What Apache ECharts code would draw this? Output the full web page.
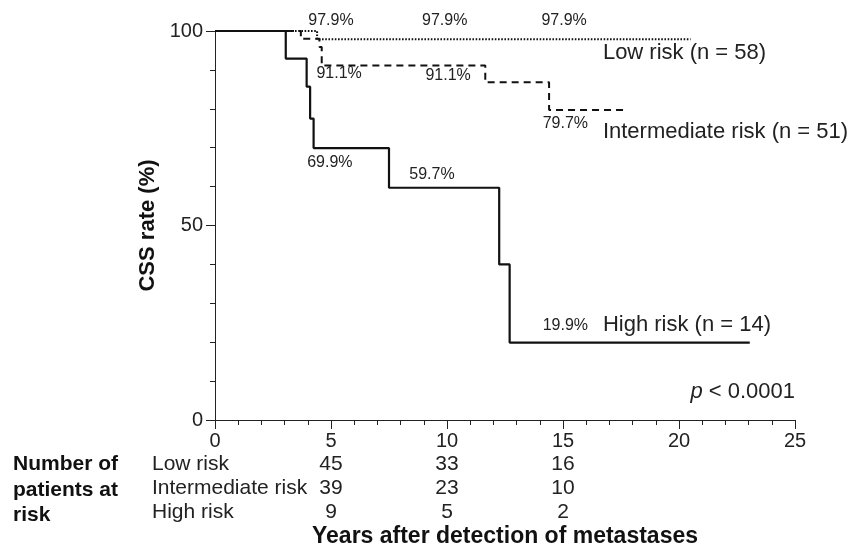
<!DOCTYPE html>
<html><head><meta charset="utf-8">
<script src="https://cdn.jsdelivr.net/npm/echarts@6/dist/echarts.min.js"></script>
<style>html,body{margin:0;padding:0;background:#fff}#c{width:867px;height:548px}</style>
</head><body><div id="c"></div>
<script>
// Kaplan-Meier step points [years, CSS %]
const lowRisk = [[0,100],[4.4,97.9],[20.5,97.9]];
const intermediateRisk = [[0,100],[3.7,98.0],[4.5,95.9],[4.6,91.1],[11.65,86.8],[14.4,79.7],[17.6,79.7]];
const highRisk = [[0,100],[3.05,92.9],[3.95,85.7],[4.1,77.5],[4.25,69.9],[7.5,59.7],[12.25,40.0],[12.7,19.9],[23.05,19.9]];
const xTicks = [0,5,10,15,20,25];
const rateLabels = [
  {t:'97.9%', x:5.0, y:102.8},{t:'97.9%', x:9.9, y:102.8},{t:'97.9%', x:15.05, y:102.8},
  {t:'91.1%', x:5.35, y:89.0},{t:'91.1%', x:10.05, y:88.6},
  {t:'79.7%', x:15.1, y:76.1},{t:'69.9%', x:4.95, y:66.1},{t:'59.7%', x:9.35, y:63.0},
  {t:'19.9%', x:15.1, y:24.2}
];
const groupLabels = [
  {t:'Low risk (n = 58)', x:16.72, y:94.3},
  {t:'Intermediate risk (n = 51)', x:16.72, y:74.0},
  {t:'High risk (n = 14)', x:16.72, y:24.4}
];
const riskGroups = ['Low risk','Intermediate risk','High risk'];
const riskTimes = [5,10,15];
const atRiskLow = [45,33,16];
const atRiskIntermediate = [39,23,10];
const atRiskHigh = [9,5,2];

const FONT = '"Liberation Sans", Arial, Helvetica, sans-serif';
const chart = echarts.init(document.getElementById('c'), null, {renderer:'canvas'});
const axisCommon = {
  axisLine:{show:true, lineStyle:{color:'#222', width:1}},
  axisTick:{show:true, inside:false, length:9, lineStyle:{color:'#222'}},
  minorTick:{show:true, splitNumber:5, length:5, lineStyle:{color:'#222'}},
  splitLine:{show:false}
};
chart.setOption({
  animation:false,
  backgroundColor:'#fff',
  grid:{left:215, right:72, top:31, bottom:128, containLabel:false, outerBoundsMode:'none'},
  xAxis:Object.assign({type:'value', min:0, max:25, interval:5,
    axisLabel:{fontSize:20, color:'#222', margin:11, fontFamily:FONT},
    name:'Years after detection of metastases', nameLocation:'middle', nameGap:105,
    nameTextStyle:{fontSize:23, fontWeight:'bold', color:'#111', fontFamily:FONT}
  }, axisCommon),
  yAxis:Object.assign({type:'value', min:0, max:100, interval:50,
    axisLabel:{fontSize:20, color:'#222', margin:12, fontFamily:FONT},
    name:'CSS rate (%)', nameLocation:'middle', nameGap:53, nameRotate:90,
    nameTextStyle:{fontSize:22, fontWeight:'bold', color:'#111', fontFamily:FONT}
  }, axisCommon),
  series:[
    {type:'line', step:'end', data:lowRisk, symbol:'none', lineStyle:{color:'#111', width:2, type:[1.6,1.6]}},
    {type:'line', step:'end', data:intermediateRisk, symbol:'none', lineStyle:{color:'#111', width:2, type:[7,5]}},
    {type:'line', step:'end', data:highRisk, symbol:'none', lineStyle:{color:'#111', width:2.2}}
  ]
});

const px = (x,y) => chart.convertToPixel({gridIndex:0}, [x,y]);
const g = [];
rateLabels.forEach(l => {
  const p = px(l.x, l.y);
  g.push({type:'text', x:p[0], y:p[1], style:{text:l.t, fill:'#222', font:'16px '+FONT, textAlign:'center', textVerticalAlign:'middle'}});
});
groupLabels.forEach(l => {
  const p = px(l.x, l.y);
  g.push({type:'text', x:p[0], y:p[1], style:{text:l.t, fill:'#222', font:'22px '+FONT, textAlign:'left', textVerticalAlign:'middle'}});
});
// p value
const pp = px(25, 7.2);
g.push({type:'text', x:pp[0], y:pp[1], style:{rich:{i:{fontStyle:'italic', fontSize:22, fontFamily:FONT, fill:'#222'}, n:{fontSize:22, fontFamily:FONT, fill:'#222'}}, text:'{i|p}{n| < 0.0001}', textAlign:'right', textVerticalAlign:'middle'}});
// number at risk table
const rowsY = [464, 488, 512];
const leftHead = ['Number of','patients at','risk'];
const headY = [464, 490, 515];
leftHead.forEach((t,i) => g.push({type:'text', x:13, y:headY[i], style:{text:t, fill:'#111', font:'bold 21px '+FONT, textAlign:'left', textVerticalAlign:'middle'}}));
riskGroups.forEach((t,i) => g.push({type:'text', x:152, y:rowsY[i], style:{text:t, fill:'#222', font:'21px '+FONT, textAlign:'left', textVerticalAlign:'middle'}}));
[atRiskLow, atRiskIntermediate, atRiskHigh].forEach((row,i) => {
  row.forEach((v,j) => {
    const p = px(riskTimes[j], 0);
    g.push({type:'text', x:p[0], y:rowsY[i], style:{text:String(v), fill:'#222', font:'21px '+FONT, textAlign:'center', textVerticalAlign:'middle'}});
  });
});
chart.setOption({graphic:{elements:g}});
</script></body></html>
